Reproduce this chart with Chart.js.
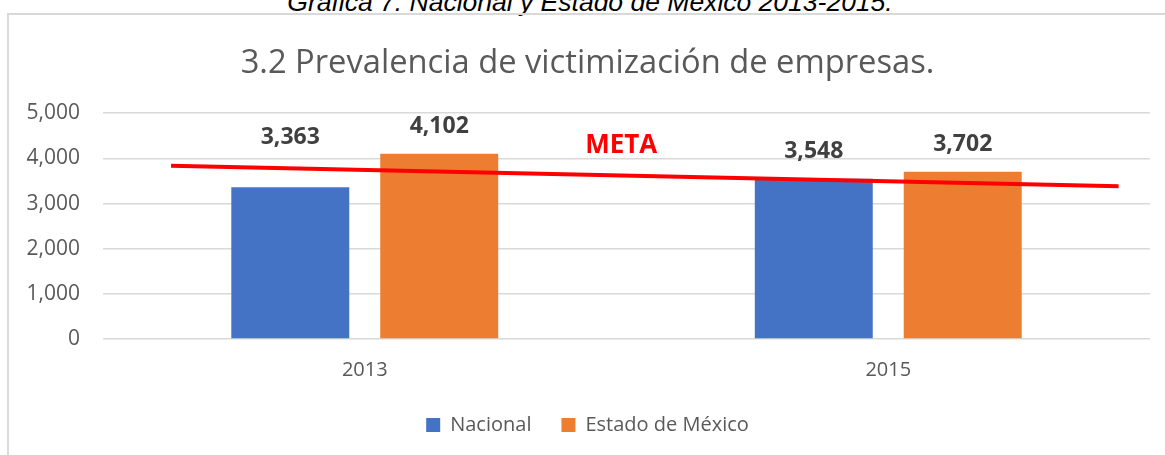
<!DOCTYPE html>
<html>
<head>
<meta charset="utf-8">
<script src="https://cdn.jsdelivr.net/npm/chart.js@4/dist/chart.umd.min.js"></script>
<style>
  body { margin: 0; background: #fff; overflow: hidden; }
  .caption {
    position: absolute; left: 0; width: 1180px; top: -13px; line-height: 1;
    text-align: center; font: italic 26.5px "Liberation Sans", Arial, sans-serif; color: #000;
  }
  .marco {
    position: absolute; left: 7px; top: 13px; width: 1200px; height: 500px;
    border-left: 2px solid #d9d9d9; border-top: 2px solid #d9d9d9;
  }
  .wrap { position: absolute; left: 0; top: 0; width: 1165px; height: 455px; }
</style>
</head>
<body>
<div class="caption">Gráfica 7. Nacional y Estado de México 2013-2015.</div>
<div class="marco"></div>
<div class="wrap"><canvas class="mychart"></canvas></div>
<script>
// datos
var years = [2013, 2015];
var nacional = [3363, 3548];
var edomex = [4102, 3702];
var metaX = [2012.26, 2015.88];
var metaY = [3835, 3385];
var yTicks = [0, 1000, 2000, 3000, 4000, 5000];

var fmt = function(v) { return v.toLocaleString("en-US"); };
var puntos = function(xs, ys) { return xs.map(function(v, i) { return { x: v, y: ys[i] }; }); };

// etiquetas de valor y texto META
var etiquetas = {
  id: "etiquetas",
  afterDatasetsDraw: function(chart) {
    var c = chart.ctx;
    var lift = [[50, 27], [27, 27]];
    c.save();
    c.font = "bold 23px 'Open Sans'";
    c.fillStyle = "#404040";
    c.textAlign = "center";
    c.textBaseline = "middle";
    [1, 2].forEach(function(d) {
      chart.getDatasetMeta(d).data.forEach(function(bar, i) {
        var v = chart.data.datasets[d].data[i].y;
        c.fillText(fmt(v), bar.x, bar.y - lift[d - 1][i]);
      });
    });
    c.font = "bold 26px 'Open Sans'";
    c.fillStyle = "#ff0000";
    c.fillText("META", chart.scales.x.getPixelForValue(2013.98), chart.scales.y.getPixelForValue(4290));
    c.restore();
  }
};

var x = document.querySelector(".mychart").getContext("2d");
var chart = new Chart(x, {
  type: "bar",
  data: {
    datasets: [{
      type: "line",
      label: "META",
      data: puntos(metaX, metaY),
      borderColor: "#ff0000",
      borderWidth: 4,
      pointRadius: 0
    }, {
      label: "Nacional",
      data: puntos(years, nacional),
      backgroundColor: "#4472c4",
      categoryPercentage: 0.569,
      barPercentage: 0.792
    }, {
      label: "Estado de México",
      data: puntos(years, edomex),
      backgroundColor: "#ed7d31",
      categoryPercentage: 0.569,
      barPercentage: 0.792
    }]
  },
  options: {
    responsive: true,
    maintainAspectRatio: false,
    animation: false,
    layout: { padding: { left: 25, right: 15, top: 0, bottom: 10 } },
    scales: {
      x: {
        type: "linear",
        min: 2012,
        max: 2016,
        offset: false,
        afterFit: function(scale) { scale.height = 46; },
        afterBuildTicks: function(scale) { scale.ticks = years.map(function(v) { return { value: v }; }); },
        grid: { display: false, drawTicks: false, offset: false },
        border: { display: false },
        ticks: {
          padding: 19,
          color: "#595959",
          font: { family: "'Open Sans'", size: 20 },
          callback: function(v) { return String(v); }
        }
      },
      y: {
        min: 0,
        max: 5000,
        afterFit: function(scale) { scale.width = 78; },
        afterBuildTicks: function(scale) { scale.ticks = yTicks.map(function(v) { return { value: v }; }); },
        grid: { color: "#d9d9d9", lineWidth: 1.5, drawTicks: false },
        border: { display: false },
        ticks: {
          padding: 23,
          color: "#595959",
          font: { family: "'Open Sans'", size: 21 },
          callback: function(v) { return fmt(v); }
        }
      }
    },
    plugins: {
      title: {
        display: true,
        text: "3.2 Prevalencia de victimización de empresas.",
        color: "#595959",
        font: { family: "'Open Sans'", size: 32.7, weight: "normal" },
        padding: { top: 44, bottom: 30 }
      },
      legend: {
        position: "bottom",
        labels: {
          filter: function(item) { return item.datasetIndex > 0; },
          boxWidth: 14,
          boxHeight: 14,
          padding: 30,
          color: "#595959",
          font: { family: "'Open Sans'", size: 20 }
        }
      },
      tooltip: { enabled: false }
    }
  },
  plugins: [etiquetas]
});
</script>
</body>
</html>
